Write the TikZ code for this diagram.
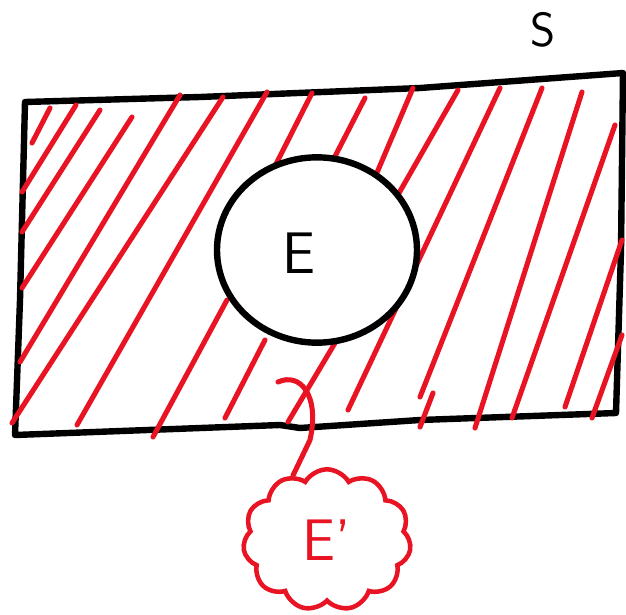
\documentclass[tikz,border=0pt]{standalone}
\usetikzlibrary{shapes.symbols,shapes.geometric}
\definecolor{penred}{RGB}{232,20,36}
\begin{document}
\begin{tikzpicture}[x=0.75pt,y=-0.75pt,
  blackpen/.style={draw=black,line width=4.8pt,line cap=round,line join=round},
  hatch/.style={draw=penred,line width=3.8pt,line cap=round},
  lbl/.style={font=\sffamily\fontsize{44}{48}\selectfont,inner sep=0pt}]
\useasboundingbox (0,0) rectangle (626,615);
% universe S
\draw[blackpen] (25,102) -- (200,97) -- (420,88) -- (623,73) -- (621,250) -- (616,413)
  -- (420,420) -- (300,428) -- (280,425) -- (15,435) -- (20,300) -- cycle;
% hatching of E'
\foreach \xa/\ya/\xb/\yb in {32/143/50/108, 22/192/76/105, 22/232/100/110, 22/288/132/117,
  20/362/180/95, 12/423/223/97, 77/425/267/92, 153/437/227/300, 273/170/312/93,
  225/418/265/340, 288/422/338/338, 328/170/365/98, 373/182/413/88, 395/200/458/90,
  348/410/500/88, 420/397/542/88, 420/427/433/393, 475/428/582/92, 512/418/615/125,
  565/407/622/240, 592/418/622/335}
  \draw[hatch] (\xa,\ya) -- (\xb,\yb);
% event E
\node[blackpen,fill=white,ellipse,minimum width=150pt,minimum height=139pt,inner sep=0pt] (circE) at (317,250) {};
\node[lbl] (labE) at (299,253) {E};
% label S
\node[lbl,font=\sffamily\fontsize{36}{40}\selectfont] (labS) at (543,30) {S};
% callout for E'
\node[cloud,draw=penred,line width=3.4pt,cloud puffs=11,cloud puff arc=120,aspect=1.2,
  minimum width=126pt,minimum height=106pt,inner sep=0pt,text=penred,
  font=\sffamily\fontsize{44}{48}\selectfont] (Ep) at (327,540) {E\textquoteright};
\coordinate (tail) at (278,382);
\draw[hatch] (tail) .. controls (300,372) and (320,395) .. (310,440) -- (Ep.118);
\end{tikzpicture}
\end{document}
